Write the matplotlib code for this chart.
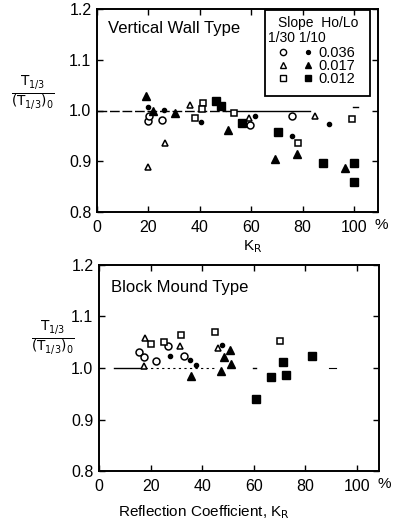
import matplotlib
matplotlib.use("Agg")
import matplotlib.pyplot as plt
from matplotlib.patches import Rectangle
from matplotlib.lines import Line2D

plt.rcParams['font.family'] = ['Liberation Sans', 'DejaVu Sans']

# ---------------- data ----------------
x_ticks = [0, 20, 40, 60, 80, 100]
x_ticklabels = ["0", "20", "40", "60", "80", "100"]
y_ticks = [0.8, 0.9, 1.0, 1.1, 1.2]
y_ticklabels = ["0.8", "0.9", "1.0", "1.1", "1.2"]

# Vertical wall type
vw_c30_x = [19.7, 20.3, 25.2, 59.5, 75.7]
vw_c30_y = [0.979, 0.990, 0.981, 0.971, 0.989]
vw_c10_x = [19.7, 26.2, 40.5, 61.5, 75.7, 90.3]
vw_c10_y = [1.006, 1.001, 0.978, 0.989, 0.950, 0.973]
vw_t30_x = [20.0, 26.5, 36.2, 59.0, 84.8]
vw_t30_y = [0.889, 0.936, 1.011, 0.985, 0.989]
vw_t10_x = [19.1, 21.6, 30.4, 51.1, 69.3, 77.7, 96.5]
vw_t10_y = [1.029, 0.999, 0.995, 0.961, 0.904, 0.914, 0.887]
vw_s30_x = [41.1, 40.7, 38.0, 53.4, 78.3, 99.0]
vw_s30_y = [1.014, 1.003, 0.985, 0.996, 0.935, 0.983]
vw_s10_x = [46.1, 48.1, 56.3, 70.5, 88.0, 100.0, 100.0]
vw_s10_y = [1.019, 1.008, 0.975, 0.957, 0.897, 0.896, 0.859]

# Block mound type
bm_c30_x = [15.4, 17.6, 21.9, 26.9, 33.1]
bm_c30_y = [1.032, 1.021, 1.013, 1.043, 1.024]
bm_c10_x = [27.7, 35.1, 37.4, 47.6]
bm_c10_y = [1.024, 1.016, 1.006, 1.044]
bm_t30_x = [17.9, 17.6, 31.2, 46.0]
bm_t30_y = [1.059, 1.004, 1.043, 1.038]
bm_t10_x = [35.5, 47.1, 48.6, 50.6, 51.0]
bm_t10_y = [0.985, 0.995, 1.022, 1.034, 1.008]
bm_s30_x = [20.2, 25.0, 31.9, 44.8, 70.0]
bm_s30_y = [1.046, 1.050, 1.064, 1.070, 1.053]
bm_s10_x = [60.7, 66.6, 71.2, 72.5, 82.5]
bm_s10_y = [0.940, 0.983, 1.012, 0.986, 1.024]

legend_rows = ["0.036", "0.017", "0.012"]

# ---------------- figure ----------------
W, H = 400, 532
fig = plt.figure(figsize=(W / 100, H / 100), dpi=100)


def fx(px):
    return px / W


def fy(py):
    return 1 - py / H


ax1 = fig.add_axes([fx(97), fy(212), fx(378) - fx(97), fy(9) - fy(212)])
ax2 = fig.add_axes([fx(99), fy(471), fx(379) - fx(99), fy(265) - fy(471)])

sty = dict(linestyle='none', color='black')


def draw(ax, c30x, c30y, c10x, c10y, t30x, t30y, t10x, t10y, s30x, s30y, s10x, s10y):
    ax.plot(c30x, c30y, marker='o', ms=5, mfc='white', mew=1.1, **sty)
    ax.plot(c10x, c10y, marker='o', ms=3, **sty)
    ax.plot(t30x, t30y, marker='^', ms=5, mfc='white', mew=1.1, **sty)
    ax.plot(t10x, t10y, marker='^', ms=5.5, **sty)
    ax.plot(s30x, s30y, marker='s', ms=5, mfc='white', mew=1.1, **sty)
    ax.plot(s10x, s10y, marker='s', ms=5.5, **sty)


draw(ax1, vw_c30_x, vw_c30_y, vw_c10_x, vw_c10_y, vw_t30_x, vw_t30_y,
     vw_t10_x, vw_t10_y, vw_s30_x, vw_s30_y, vw_s10_x, vw_s10_y)
draw(ax2, bm_c30_x, bm_c30_y, bm_c10_x, bm_c10_y, bm_t30_x, bm_t30_y,
     bm_t10_x, bm_t10_y, bm_s30_x, bm_s30_y, bm_s10_x, bm_s10_y)

# reference lines at 1.0
ax1.plot([0, 50], [1.0, 1.0], color='black', lw=1.0, dashes=(7, 2), zorder=1)
ax1.plot([50, 83], [1.0, 1.0], color='black', lw=1.0, zorder=1)
ax1.plot([99.5, 101.5], [1.006, 1.006], color='black', lw=1.0, zorder=1)
ax2.plot([6, 18], [1.0, 1.0], color='black', lw=1.0, zorder=1)
ax2.plot([18, 45], [1.0, 1.0], color='black', lw=0.8, dashes=(2, 3), zorder=1)
ax2.plot([59.5, 61], [1.0, 1.0], color='black', lw=1.0, zorder=1)
ax2.plot([89, 92], [1.0, 1.0], color='black', lw=0.8, zorder=1)

for ax, xmax in ((ax1, 109.3), (ax2, 108.5)):
    ax.set_xlim(0, xmax)
    ax.set_ylim(0.8, 1.2)
    ax.set_xticks(x_ticks)
    ax.set_xticklabels(x_ticklabels)
    ax.set_yticks(y_ticks)
    ax.set_yticklabels(y_ticklabels)
    ax.tick_params(axis='both', direction='in', length=4, width=1.0,
                   top=True, right=True, labelsize=11.5, colors='black')
    ax.tick_params(axis='x', pad=6)
    ax.tick_params(axis='y', pad=4)
    for s in ax.spines.values():
        s.set_linewidth(1.4)
    ax.text(110.5, -0.03, "%", transform=ax.get_xaxis_transform(),
            ha='center', va='top', fontsize=11)

ax1.text(fx(108), fy(33), "Vertical Wall Type", transform=fig.transFigure,
         fontsize=12, ha='left', va='baseline')
ax2.text(fx(111), fy(292), "Block Mound Type", transform=fig.transFigure,
         fontsize=12, ha='left', va='baseline')

# legend box (top panel)
fig.patches.append(Rectangle((fx(265), fy(96)), fx(370) - fx(265), fy(10) - fy(96),
                             transform=fig.transFigure, fill=False, lw=1.3,
                             edgecolor='black'))
fig.text(fx(278), fy(27), "Slope  Ho/Lo", fontsize=10, ha='left', va='baseline')
fig.text(fx(268), fy(42), "1/30 1/10", fontsize=10, ha='left', va='baseline')
leg_syms = [('o', 4.5, 2.8), ('^', 4.5, 5), ('s', 4.5, 5)]
row_y = [52, 65, 78]
for (m, s_open, s_fill), lab, ry in zip(leg_syms, legend_rows, row_y):
    fig.add_artist(Line2D([fx(283)], [fy(ry)], marker=m, ms=s_open, mfc='white',
                          mec='black', mew=1.0, linestyle='none',
                          transform=fig.transFigure))
    fig.add_artist(Line2D([fx(308)], [fy(ry)], marker=m, ms=s_fill, color='black',
                          linestyle='none', transform=fig.transFigure))
    fig.text(fx(318), fy(ry + 5), lab, fontsize=10.5, ha='left', va='baseline')

# axis labels
ylab = r'$\frac{\mathrm{T_{1/3}}}{\mathrm{(T_{1/3})_0}}$'
fig.text(fx(33), fy(93), ylab, fontsize=14, ha='center', va='center')
fig.text(fx(53), fy(338), ylab, fontsize=14, ha='center', va='center')
fig.text(fx(253), fy(238), r'K$_\mathrm{R}$', fontsize=11, ha='center', va='top')
fig.text(fx(204), fy(512), r'Reflection Coefficient, K$_\mathrm{R}$', fontsize=11,
         ha='center', va='center')

fig.savefig("out.png", dpi=100)
